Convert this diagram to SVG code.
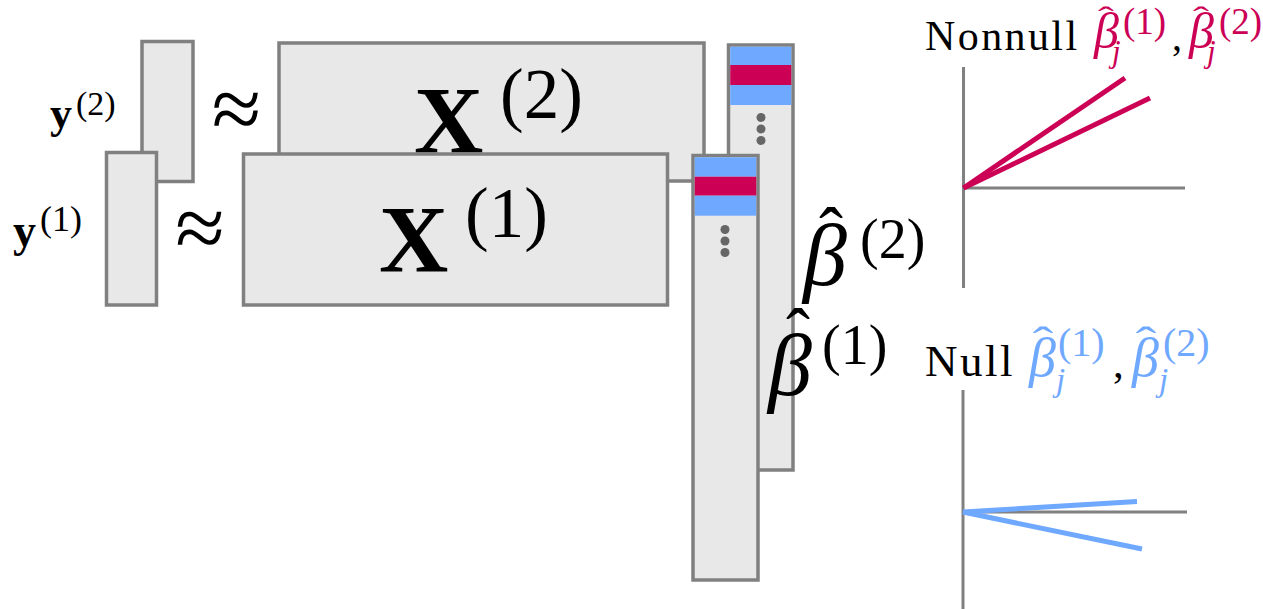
<svg xmlns="http://www.w3.org/2000/svg" width="1263" height="609" viewBox="0 0 1263 609">
<style>
.box{fill:#e8e8e8;stroke:#808080;stroke-width:3.5}
.t{font-family:"Liberation Serif","Times New Roman",serif;fill:#000}
.b{font-weight:bold}
.i{font-style:italic}
.ax{stroke:#808080;stroke-width:3;fill:none}
.pk{stroke:#cc0055;stroke-width:5;stroke-linecap:butt;fill:none}
.bl{stroke:#6fa8ff;stroke-width:5;stroke-linecap:butt;fill:none}
.blue{fill:#6fa8ff}
.red{fill:#cc0055}
.dot{fill:#666666}
.pt{fill:#cc0055}
.bt{fill:#6fa8ff}
</style>
<rect width="1263" height="609" fill="#ffffff"/>

<g id="y2">
<rect class="box" x="142" y="41.5" width="51" height="140"/>
</g>
<g id="y1">
<rect class="box" x="106.5" y="152.5" width="50" height="152.5"/>
</g>
<g id="X2">
<rect class="box" x="279" y="43" width="425" height="138"/>
<text class="t b" x="414" y="153" font-size="96">X</text>
<text class="t" x="500" y="118" font-size="71">(2)</text>
</g>
<g id="X1">
<rect class="box" x="243.5" y="154" width="424" height="151"/>
<text class="t b" x="379" y="272" font-size="96">X</text>
<text class="t" x="465" y="236.5" font-size="71">(1)</text>
</g>
<g id="beta2col">
<rect class="box" x="728.5" y="45" width="64.5" height="425"/>
<rect class="blue" x="730.25" y="46.75" width="61" height="18.25"/>
<rect class="red" x="730.25" y="65" width="61" height="20"/>
<rect class="blue" x="730.25" y="85" width="61" height="20"/>
<circle class="dot" cx="761" cy="117.5" r="4.5"/>
<circle class="dot" cx="761" cy="129" r="4.5"/>
<circle class="dot" cx="761" cy="140.5" r="4.5"/>
</g>
<g id="beta1col">
<rect class="box" x="693" y="155.5" width="65" height="424.5"/>
<rect class="blue" x="694.75" y="157.25" width="61.5" height="19.45"/>
<rect class="red" x="694.75" y="176.7" width="61.5" height="19"/>
<rect class="blue" x="694.75" y="195.7" width="61.5" height="20"/>
<circle class="dot" cx="725" cy="229.5" r="4.5"/>
<circle class="dot" cx="725" cy="241" r="4.5"/>
<circle class="dot" cx="725" cy="252.5" r="4.5"/>
</g>

<g id="labels">
<text class="t b" x="50" y="128" font-size="44">y</text>
<text class="t" x="76" y="114.5" font-size="34">(2)</text>
<text class="t b" x="13" y="246" font-size="46">y</text>
<text class="t" x="40" y="231" font-size="36">(1)</text>
<text class="t" x="236.5" y="139" font-size="90" text-anchor="middle">≈</text>
<text class="t" x="200" y="258" font-size="90" text-anchor="middle">≈</text>
<text class="t i" x="803" y="285" font-size="88">β</text>
<text class="t" x="831" y="257" font-size="72" text-anchor="middle">ˆ</text>
<text class="t" x="860" y="258" font-size="56">(2)</text>
<text class="t i" x="768" y="395" font-size="88">β</text>
<text class="t" x="798" y="358" font-size="72" text-anchor="middle">ˆ</text>
<text class="t" x="822" y="364" font-size="56">(1)</text>
</g>

<g id="nonnull-chart">
<text class="t" x="925" y="50" font-size="42" letter-spacing="2.4">Nonnull</text>
<text class="t i pt" x="1094" y="48" font-size="50">β</text>
<text class="t pt" transform="translate(1106,27) scale(1.6,1)" font-size="30" text-anchor="middle">ˆ</text>
<text class="t i pt" x="1112" y="62" font-size="31">j</text>
<text class="t pt" x="1123" y="34" font-size="37">(1)</text>
<text class="t" x="1172" y="50" font-size="40">,</text>
<text class="t i pt" x="1189" y="48" font-size="50">β</text>
<text class="t pt" transform="translate(1201,27) scale(1.6,1)" font-size="30" text-anchor="middle">ˆ</text>
<text class="t i pt" x="1207" y="62" font-size="31">j</text>
<text class="t pt" x="1219" y="34" font-size="37">(2)</text>
</g>

<g id="null-chart">
<text class="t" x="925" y="376" font-size="45" letter-spacing="2.5">Null</text>
<text class="t i bt" x="1029" y="376" font-size="54">β</text>
<text class="t bt" transform="translate(1043,357) scale(1.4,1)" font-size="44" text-anchor="middle">ˆ</text>
<text class="t i bt" x="1056" y="391" font-size="33">j</text>
<text class="t bt" x="1058" y="356" font-size="40">(1)</text>
<text class="t" x="1113" y="377" font-size="43">,</text>
<text class="t i bt" x="1132" y="376" font-size="54">β</text>
<text class="t bt" transform="translate(1146,357) scale(1.4,1)" font-size="44" text-anchor="middle">ˆ</text>
<text class="t i bt" x="1159" y="391" font-size="33">j</text>
<text class="t bt" x="1163" y="356" font-size="40">(2)</text>
</g>

<g id="connectors">
<line class="ax" x1="963.5" y1="67" x2="963.5" y2="288"/>
<line class="ax" x1="963.5" y1="188" x2="1185" y2="188"/>
<line class="pk" x1="963.5" y1="188" x2="1125" y2="78"/>
<line class="pk" x1="963.5" y1="188" x2="1150" y2="98"/>
<line class="ax" x1="963" y1="390" x2="963" y2="609"/>
<line class="ax" x1="963" y1="512" x2="1187" y2="512"/>
<line class="bl" x1="963" y1="512" x2="1137" y2="501.5"/>
<line class="bl" x1="963" y1="512" x2="1142" y2="549"/>
</g>
</svg>
